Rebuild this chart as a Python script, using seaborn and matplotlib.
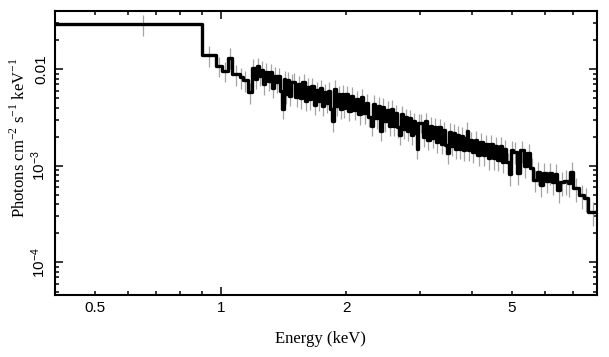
import numpy as np
import pandas as pd
import matplotlib
matplotlib.use("Agg")
import matplotlib.pyplot as plt
import seaborn as sns
from matplotlib.ticker import FixedLocator, FuncFormatter, NullFormatter, LogLocator

# ---------------- data (bin low edges in keV, flux in 1e-3 photons/cm2/s/keV) -------------
elo_soft = [0.40, 0.90, 0.976, 1.004, 1.039, 1.065, 1.111, 1.130, 1.162]
flux_soft = [29.0, 14.0, 10.9, 9.6, 13.2, 8.9, 8.3, 7.7, 5.8]

elo_a = [1.190, 1.205, 1.220, 1.235, 1.250, 1.265, 1.280, 1.295, 1.310, 1.325,
         1.340, 1.355, 1.370, 1.385, 1.400, 1.415, 1.430, 1.445, 1.460, 1.475]
flux_a = [10.4, 7.9, 10.7, 8.6, 9.9, 7.0, 9.4, 7.6, 9.3, 6.4,
          8.6, 7.3, 8.5, 5.9, 3.9, 7.9, 5.6, 7.7, 5.3, 7.3]

elo_b = [1.49, 1.51, 1.53, 1.55, 1.57, 1.59, 1.61, 1.63, 1.65, 1.67, 1.69, 1.71, 1.73,
         1.75, 1.77, 1.79, 1.81, 1.83, 1.85, 1.87, 1.89, 1.91, 1.93, 1.95, 1.97]
flux_b = [7.4, 5.2, 7.0, 5.0, 7.3, 4.7, 6.6, 4.9, 6.7, 4.3, 6.1, 4.7, 6.4,
          4.2, 5.8, 4.5, 6.0, 3.9, 2.9, 6.3, 4.2, 5.5, 3.9, 5.6, 4.0]

elo_c = [1.99, 2.02, 2.05, 2.08, 2.11, 2.14, 2.17, 2.20, 2.23, 2.26, 2.29, 2.32,
         2.35, 2.38, 2.41, 2.44, 2.47, 2.50, 2.53, 2.56, 2.59, 2.62, 2.65, 2.68,
         2.71, 2.74, 2.77, 2.80, 2.83, 2.86, 2.89, 2.92, 2.95, 2.98]
flux_c = [5.5, 3.7, 5.3, 3.8, 4.9, 3.4, 5.1, 3.5, 4.5, 3.2, 2.6, 4.4,
          3.1, 4.2, 2.3, 4.1, 2.9, 3.8, 2.6, 3.9, 2.6, 3.5, 2.5, 2.1,
          3.4, 2.4, 3.2, 2.3, 3.1, 2.1, 2.9, 2.2, 1.5, 2.8]

elo_d = [3.01, 3.05, 3.09, 3.13, 3.17, 3.21, 3.25, 3.29, 3.33, 3.37, 3.41, 3.45, 3.49,
         3.53, 3.57, 3.61, 3.65, 3.69, 3.73, 3.77, 3.81, 3.85, 3.89, 3.93, 3.97]
flux_d = [2.8, 2.0, 2.9, 1.85, 2.6, 1.95, 2.55, 1.75, 2.5, 1.7, 2.35, 1.65, 1.35,
          2.25, 1.6, 2.2, 1.5, 2.1, 1.5, 2.05, 1.45, 1.95, 2.3, 1.45, 1.85]

elo_e = [4.01, 4.07, 4.13, 4.19, 4.25, 4.31, 4.37, 4.43, 4.49, 4.55, 4.61, 4.67,
         4.73, 4.79, 4.85, 4.91, 4.97]
flux_e = [1.4, 1.85, 1.3, 1.75, 1.3, 1.7, 1.2, 1.7, 1.2, 1.6, 1.15, 1.6,
          1.1, 1.5, 1.1, 0.82, 1.45]

elo_f = [5.03, 5.13, 5.23, 5.33, 5.43, 5.53, 5.63, 5.73, 5.83, 5.93, 6.03, 6.13,
         6.23, 6.33, 6.43]
flux_f = [1.4, 0.85, 1.45, 1.0, 1.35, 0.95, 0.72, 0.86, 0.64, 0.84, 0.70, 0.85,
          0.68, 0.82, 0.56]

elo_g = [6.53, 6.68, 6.80, 6.91, 7.01, 7.25, 7.45, 7.62]
flux_g = [0.68, 0.70, 0.66, 0.86, 0.59, 0.50, 0.46, 0.33]

e_last_edge = 8.0

# relative 1-sigma error per segment
rel_err_seg = [0.24, 0.22, 0.22, 0.22, 0.22, 0.24, 0.26, 0.28]

x_tick_labels = {0.5: "0.5", 1.0: "1", 2.0: "2", 5.0: "5"}
y_tick_vals = [1e-4, 1e-3, 1e-2]
y_tick_labels = [r"$\mathregular{10^{-4}}$", r"$\mathregular{10^{-3}}$", "0.01"]

# ---------------- assemble ----------------
seg_e = [elo_soft, elo_a, elo_b, elo_c, elo_d, elo_e, elo_f, elo_g]
seg_f = [flux_soft, flux_a, flux_b, flux_c, flux_d, flux_e, flux_f, flux_g]
elo = np.concatenate([np.asarray(s, float) for s in seg_e])
flux = np.concatenate([np.asarray(s, float) for s in seg_f]) * 1e-3
rel = np.concatenate([np.full(len(s), r) for s, r in zip(seg_e, rel_err_seg)])
ehi = np.append(elo[1:], e_last_edge)
ecen = 0.5 * (elo + ehi)

step_df = pd.DataFrame({"Energy": np.append(elo, e_last_edge),
                        "Flux": np.append(flux, flux[-1])})

# ---------------- style ----------------
sns.set_theme(style="ticks")
plt.rcParams["font.family"] = ["Liberation Sans", "DejaVu Sans"]
plt.rcParams["mathtext.fontset"] = "custom"
plt.rcParams["mathtext.rm"] = "Liberation Sans"
plt.rcParams["axes.unicode_minus"] = True

fig = plt.figure(figsize=(6.09, 3.57), dpi=100)
ax = fig.add_axes([55 / 609, 1 - 295 / 357, 542 / 609, 284 / 357])

ax.vlines(ecen, flux * (1 - rel), flux * (1 + rel), color="#a4a4a4", lw=0.9, zorder=1)
sns.lineplot(data=step_df, x="Energy", y="Flux", drawstyle="steps-post",
             color="black", lw=2.4, ax=ax, zorder=3, estimator=None, sort=False)

ax.set_xscale("log")
ax.set_yscale("log")
ax.set_xlim(0.4, 8.0)
ax.set_ylim(4.6e-5, 0.04)

ax.xaxis.set_major_locator(FixedLocator([1.0]))
ax.xaxis.set_minor_locator(LogLocator(base=10, subs=np.arange(2, 10)))
ax.xaxis.set_major_formatter(FuncFormatter(lambda v, p: x_tick_labels.get(round(v, 3), "")))
ax.xaxis.set_minor_formatter(FuncFormatter(lambda v, p: x_tick_labels.get(round(v, 3), "")))

ax.yaxis.set_major_locator(FixedLocator(y_tick_vals))
ax.yaxis.set_major_formatter(FuncFormatter(
    lambda v, p: y_tick_labels[y_tick_vals.index(v)] if v in y_tick_vals else ""))
ax.yaxis.set_minor_locator(LogLocator(base=10, subs=np.arange(2, 10)))
ax.yaxis.set_minor_formatter(NullFormatter())

ax.tick_params(which="both", direction="in", top=True, right=True,
               color="black", width=1.1, labelcolor="black", labelsize=11)
ax.tick_params(which="major", length=6)
ax.tick_params(which="minor", length=3.2)
ax.tick_params(axis="x", which="both", pad=4)
ax.tick_params(axis="y", which="major", pad=5, labelrotation=90)
for lab in ax.get_yticklabels():
    lab.set_va("center")

for sp in ax.spines.values():
    sp.set_linewidth(1.5)
    sp.set_color("black")

ax.set_xlabel("Energy (keV)", fontfamily="Liberation Serif", fontsize=12, color="black")
ax.xaxis.set_label_coords((320 - 55) / 542, (295 - 331) / 284)
ax.set_ylabel(r"Photons cm$^{\mathregular{-2}}$ s$^{\mathregular{-1}}$ keV$^{\mathregular{-1}}$",
              fontfamily="Liberation Serif", fontsize=12, color="black")
ax.yaxis.set_label_coords((28.5 - 55) / 542, (295 - 138) / 284)

fig.savefig("out.png", dpi=100)
